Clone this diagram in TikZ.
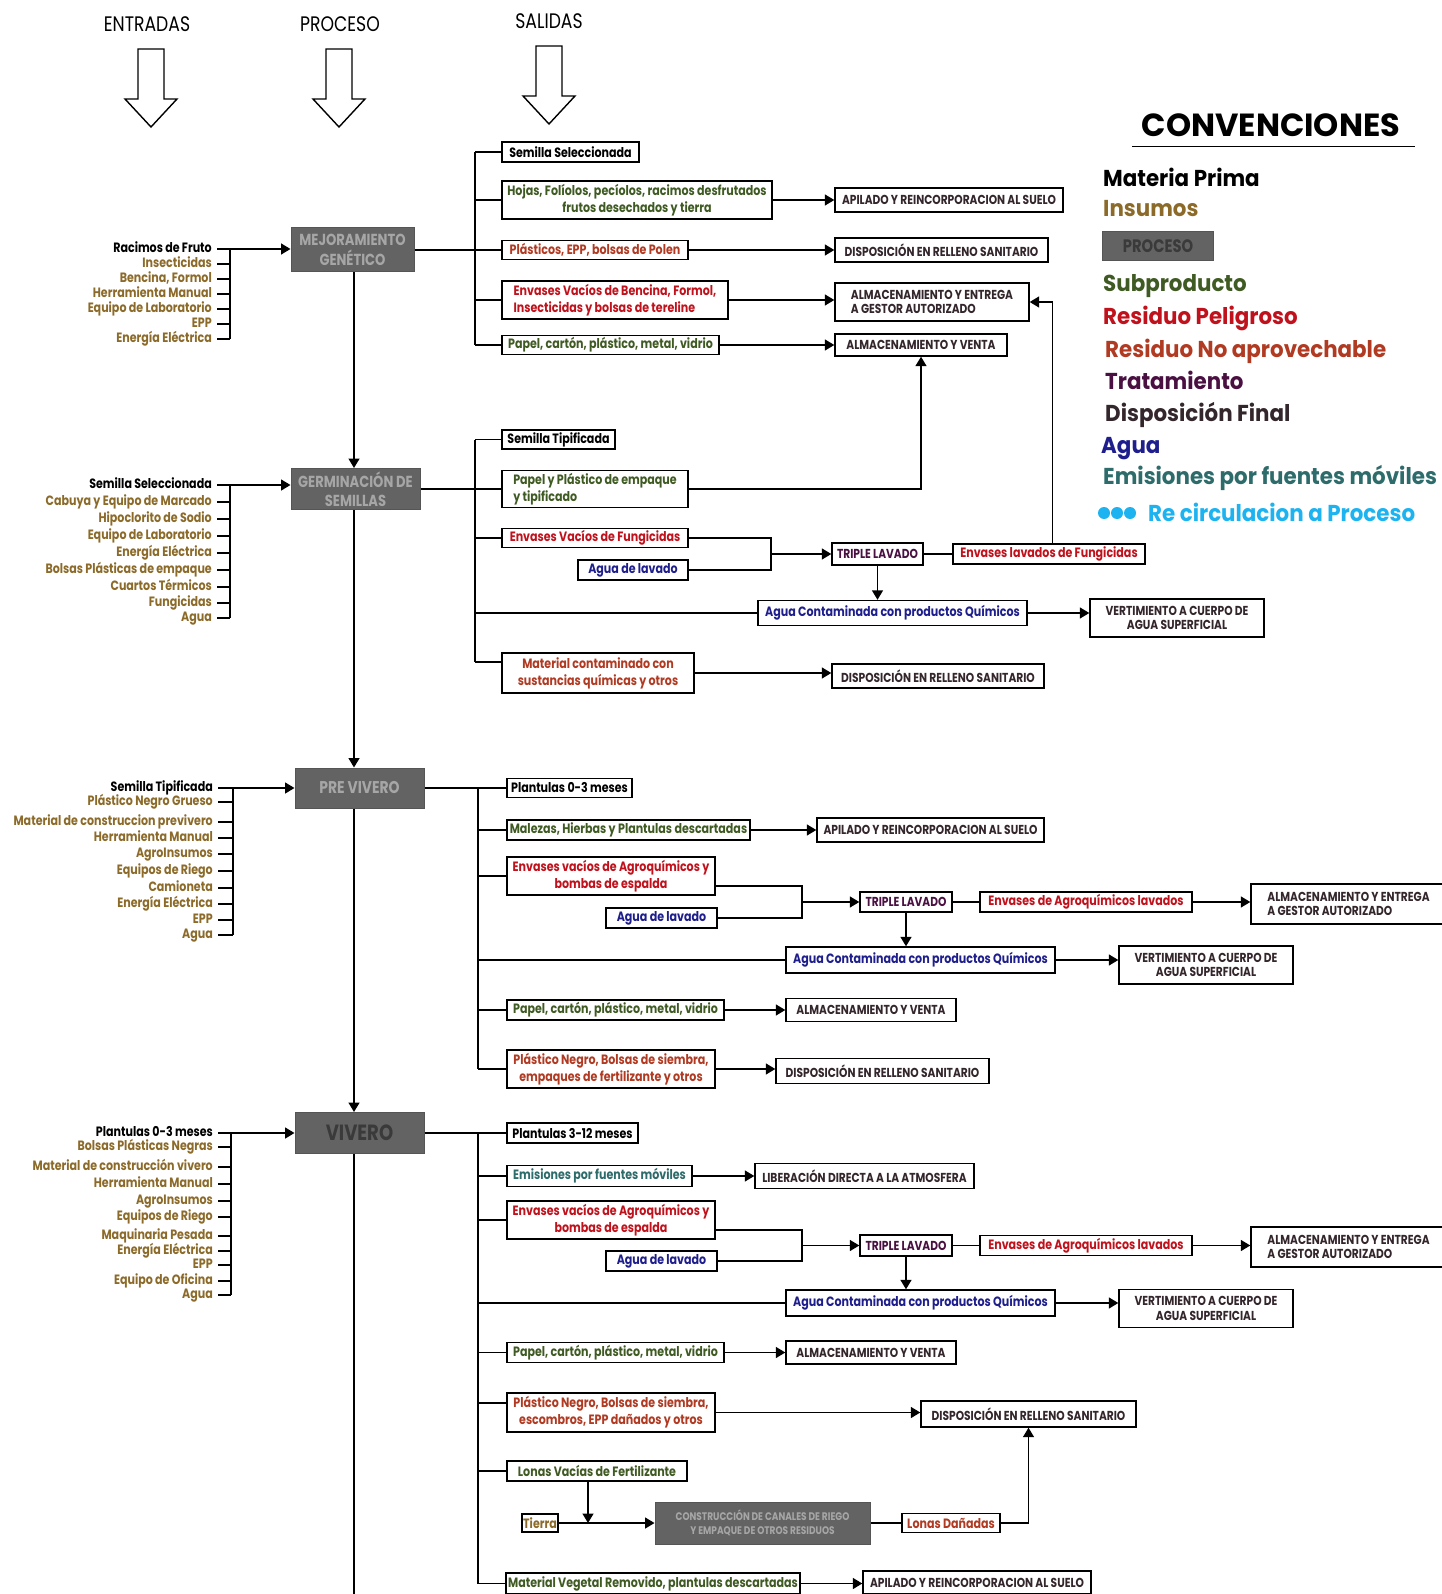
\documentclass[tikz,border=0pt]{standalone}
\usepackage{fontspec}
\setmainfont{Poppins}
\newfontfamily\condfam[FakeStretch=0.82]{Poppins}
\newfontfamily\legfam[FakeStretch=0.93]{Poppins}
\usetikzlibrary{arrows.meta}

\definecolor{insumo}{HTML}{8C6B2A}
\definecolor{subp}{HTML}{3F5A22}
\definecolor{pelig}{HTML}{C0121C}
\definecolor{noap}{HTML}{B03A22}
\definecolor{trat}{HTML}{4A1042}
\definecolor{dfin}{HTML}{33262C}
\definecolor{agua}{HTML}{1E1E8C}
\definecolor{emis}{HTML}{2E6B6B}
\definecolor{recir}{HTML}{1CB3F0}
\definecolor{procfill}{HTML}{636363}
\definecolor{procedge}{HTML}{555555}
\definecolor{proctext}{HTML}{A6A6A6}
\definecolor{procdark}{HTML}{3A3A3A}

\newcommand\lblfont{\condfam\bfseries\fontsize{13.5}{15}\selectfont}
\newcommand\bxfont{\condfam\bfseries\fontsize{13.5}{17}\selectfont}
\newcommand\dstfont{\condfam\bfseries\fontsize{13}{14.5}\selectfont}
\newcommand\prcfont{\condfam\bfseries\fontsize{16}{19.5}\selectfont}
\newcommand\hdfont{\condfam\fontsize{21}{24}\selectfont}
\newcommand\lgfont{\legfam\bfseries\fontsize{23}{26}\selectfont}

\tikzset{
  ln/.style={line width=1.5pt, draw=black},
  arr/.style={ln, -{Triangle[length=9.5pt,width=11pt]}},
  inp/.style={anchor=east, inner sep=0pt, text height=9.5pt, text depth=2.5pt, font=\lblfont, text=insumo},
  obox/.style={draw=black, line width=1.4pt, fill=white, inner sep=2pt, align=center, font=\bxfont},
  dbox/.style={obox, font=\dstfont, text=dfin},
  tbox/.style={obox, font=\dstfont, text=trat},
  pbox/.style={draw=procedge, fill=procfill, line width=1pt, inner sep=2pt, align=center, text=proctext, font=\prcfont},
  legend/.style={anchor=base west, inner sep=0pt, font=\lgfont},
  hollowdown/.pic={\draw[line width=1.4pt, fill=white] (-13,0) -- (13,0) -- (13,50) -- (26,50) -- (0,78) -- (-26,50) -- (-13,50) -- cycle;},
}

\begin{document}
\begin{tikzpicture}[x=1pt,y=-1pt]
\fill[white] (0,0) rectangle (1441,1594);
\useasboundingbox (0,0) rectangle (1441,1594);

% ---------- column headers ----------
\node[font=\hdfont] (hin) at (147,24) {ENTRADAS};
\node[font=\hdfont] (hproc) at (340,24) {PROCESO};
\node[font=\hdfont] (hout) at (549,21) {SALIDAS};
\pic at (151,49) {hollowdown};
\pic at (339,49) {hollowdown};
\pic at (549,46) {hollowdown};

% ---------- process column ----------
\coordinate (sp) at (354,0);
\coordinate (spend) at (354,1594);
\node[pbox, minimum width=123, minimum height=44] (mej) at (352.5,250) {MEJORAMIENTO\\GENÉTICO};
\node[pbox, minimum width=129, minimum height=41] (germ) at (355.5,489) {GERMINACIÓN DE\\SEMILLAS};
\node[pbox, minimum width=129, minimum height=40, font=\condfam\bfseries\fontsize{17}{20}\selectfont] (prev) at (359.5,788) {PRE VIVERO};
\node[pbox, minimum width=129, minimum height=41, font=\condfam\bfseries\fontsize{22}{24}\selectfont, text=procdark] (viv) at (359.5,1133) {VIVERO};
\draw[arr] (mej.south -| sp) -- (germ.north -| sp);
\draw[arr] (germ.south -| sp) -- (prev.north -| sp);
\draw[arr] (prev.south -| sp) -- (viv.north -| sp);
\draw[ln] (viv.south -| sp) -- (spend);

% ---------- inputs: mejoramiento ----------
\coordinate (mib) at (230,0);
\node[inp, text=black] (mi0) at (212,249) {Racimos de Fruto};
\foreach \t/\y [count=\i] in {Insecticidas/264, {Bencina, Formol}/279, Herramienta Manual/294, Equipo de Laboratorio/309, EPP/324, Energía Eléctrica/339} {
  \node[inp] (mi\i) at (212,\y) {\t};
  \draw[ln] ([xshift=5pt]mi\i.east) -- (mi\i.east -| mib);
}
\draw[arr] ([xshift=5pt]mi0.east) -- (mi0.east -| mej.west);
\draw[ln] (mi0.east -| mib) -- (mi6.east -| mib);

% ---------- inputs: germinacion ----------
\coordinate (gib) at (230,0);
\node[inp, text=black] (gi0) at (212,485) {Semilla Seleccionada};
\foreach \t/\y [count=\i] in {Cabuya y Equipo de Marcado/502, Hipoclorito de Sodio/519, Equipo de Laboratorio/536, Energía Eléctrica/553, Bolsas Plásticas de empaque/570, Cuartos Térmicos/587, Fungicidas/603, Agua/618} {
  \node[inp] (gi\i) at (212,\y) {\t};
  \draw[ln] ([xshift=5pt]gi\i.east) -- (gi\i.east -| gib);
}
\draw[arr] ([xshift=5pt]gi0.east) -- (gi0.east -| germ.west);
\draw[ln] (gi0.east -| gib) -- (gi8.east -| gib);

% ---------- inputs: pre vivero ----------
\coordinate (pib) at (233,0);
\node[inp, text=black] (pi0) at (213,788) {Semilla Tipificada};
\foreach \t/\y [count=\i] in {Plástico Negro Grueso/802, Material de construccion previvero/822, Herramienta Manual/838, AgroInsumos/854, Equipos de Riego/871, Camioneta/888, Energía Eléctrica/904, EPP/920, Agua/935} {
  \node[inp] (pi\i) at (213,\y) {\t};
  \draw[ln] ([xshift=5pt]pi\i.east) -- (pi\i.east -| pib);
}
\draw[arr] ([xshift=5pt]pi0.east) -- (pi0.east -| prev.west);
\draw[ln] (pi0.east -| pib) -- (pi9.east -| pib);

% ---------- inputs: vivero ----------
\coordinate (vib) at (231,0);
\node[inp, text=black] (vi0) at (213,1133) {Plantulas 0-3 meses};
\foreach \t/\y [count=\i] in {Bolsas Plásticas Negras/1147, Material de construcción vivero/1167, Herramienta Manual/1184, AgroInsumos/1201, Equipos de Riego/1217, Maquinaria Pesada/1236, Energía Eléctrica/1251, EPP/1265, Equipo de Oficina/1281, Agua/1295} {
  \node[inp] (vi\i) at (213,\y) {\t};
  \draw[ln] ([xshift=5pt]vi\i.east) -- (vi\i.east -| vib);
}
\draw[arr] ([xshift=5pt]vi0.east) -- (vi0.east -| viv.west);
\draw[ln] (vi0.east -| vib) -- (vi10.east -| vib);

% ---------- outputs: mejoramiento ----------
\coordinate (mob) at (475,0);
\node[obox, text=black, minimum width=137, minimum height=20] (o1a) at (570.5,152) {Semilla Seleccionada};
\node[obox, text=subp, minimum width=270, minimum height=38] (o1b) at (637,200) {Hojas, Folíolos, pecíolos, racimos desfrutados\\frutos desechados y tierra};
\node[obox, text=noap, minimum width=186, minimum height=19] (o1c) at (595,250) {Plásticos, EPP, bolsas de Polen};
\node[obox, text=pelig, align=left, minimum width=226, minimum height=38] (o1d) at (615,300) {Envases Vacíos de Bencina, Formol,\\Insecticidas y bolsas de tereline};
\node[obox, text=subp, minimum width=217, minimum height=19] (o1e) at (610.5,345) {Papel, cartón, plástico, metal, vidrio};
\node[dbox, minimum width=228, minimum height=24] (d1a) at (949,200) {APILADO Y REINCORPORACION AL SUELO};
\node[dbox, minimum width=213, minimum height=24] (d1b) at (941.5,250) {DISPOSICIÓN EN RELLENO SANITARIO};
\node[dbox, align=left, minimum width=194, minimum height=38] (d1c) at (932,302) {ALMACENAMIENTO Y ENTREGA\\A GESTOR AUTORIZADO};
\node[dbox, minimum width=172, minimum height=22] (d1d) at (921,345) {ALMACENAMIENTO Y VENTA};
\draw[ln] (mej.east) -- (o1c.west);
\draw[ln] (o1a.west -| mob) -- (o1e.west -| mob);
\foreach \n in {o1a,o1b,o1d,o1e} \draw[ln] (\n.west -| mob) -- (\n.west);
\draw[arr] (o1b.east) -- (d1a.west);
\draw[arr] (o1c.east) -- (d1b.west);
\draw[arr] (o1d.east) -- (o1d.east -| d1c.west);
\draw[arr] (o1e.east) -- (d1d.west);

% ---------- outputs: germinacion ----------
\coordinate (gob) at (475,0);
\coordinate (b2) at (771,0);
\coordinate (r2) at (1052.5,0);
\node[obox, text=black, minimum width=113, minimum height=19] (o2a) at (558.5,439.5) {Semilla Tipificada};
\node[obox, text=subp, align=left, minimum width=186, minimum height=37] (o2b) at (595,489) {Papel y Plástico de empaque\\y tipificado};
\node[obox, text=pelig, minimum width=186, minimum height=19] (o2c) at (595,538) {Envases Vacíos de Fungicidas};
\node[obox, text=agua, minimum width=110, minimum height=20] (o2d) at (633,570) {Agua de lavado};
\node[tbox, minimum width=91, minimum height=22] (t2) at (877.5,554) {TRIPLE LAVADO};
\node[obox, text=pelig, minimum width=192, minimum height=20] (o2e) at (1049,554) {Envases lavados de Fungicidas};
\node[obox, text=agua, minimum width=269, minimum height=25] (o2f) at (892.5,613) {Agua Contaminada con productos Químicos};
\node[dbox, minimum width=174, minimum height=38] (d2a) at (1177,618) {VERTIMIENTO A CUERPO DE\\AGUA SUPERFICIAL};
\node[obox, text=noap, minimum width=192, minimum height=40] (o2g) at (598,673) {Material contaminado con\\sustancias químicas y otros};
\node[dbox, minimum width=212, minimum height=24] (d2b) at (938,676) {DISPOSICIÓN EN RELLENO SANITARIO};
\coordinate (o2gt) at ([yshift=11pt]o2g.west);
\draw[ln] (germ.east) -- (o2b.west);
\draw[ln] (o2a.west -| gob) -- (o2gt -| gob);
\foreach \n in {o2a,o2c,o2f} \draw[ln] (\n.west -| gob) -- (\n.west);
\draw[ln] (o2gt -| gob) -- (o2gt);
\draw[ln] (o2c.east) -- (o2c.east -| b2) -- (o2d.east -| b2) -- (o2d.east);
\draw[arr] (t2.west -| b2) -- (t2.west);
\draw[ln] (t2.east) -- (o2e.west);
\draw[arr] (t2.south) -- (t2.south |- o2f.north);
\draw[arr] (o2f.east) -- (o2f.east -| d2a.west);
\draw[arr] (o2g.east) -- (o2g.east -| d2b.west);
% recirculation to the first stage
\draw[arr] (o2b.east) -| (d1d.south);
\draw[arr] (o2e.north -| r2) |- (d1c.east);

% ---------- outputs: pre vivero ----------
\coordinate (pob) at (478,0);
\coordinate (b3) at (802,0);
\node[obox, text=black, minimum width=125, minimum height=19] (o3a) at (569.5,788) {Plantulas 0-3 meses};
\node[obox, text=subp, minimum width=243, minimum height=20] (o3b) at (628.5,830) {Malezas, Hierbas y Plantulas descartadas};
\node[dbox, minimum width=227, minimum height=24] (d3a) at (930.5,830) {APILADO Y REINCORPORACION AL SUELO};
\node[obox, text=pelig, minimum width=208, minimum height=38] (o3c) at (611,876) {Envases vacíos de Agroquímicos y\\bombas de espalda};
\node[obox, text=agua, minimum width=111, minimum height=20] (o3d) at (661.5,918) {Agua de lavado};
\node[tbox, minimum width=92, minimum height=20] (t3) at (906,902) {TRIPLE LAVADO};
\node[obox, text=pelig, minimum width=212, minimum height=20] (o3e) at (1086,902) {Envases de Agroquímicos lavados};
\node[dbox, align=left, minimum width=195, minimum height=40] (d3b) at (1348.5,904) {ALMACENAMIENTO Y ENTREGA\\A GESTOR AUTORIZADO};
\node[obox, text=agua, minimum width=269, minimum height=26] (o3f) at (920.5,960) {Agua Contaminada con productos Químicos};
\node[dbox, minimum width=174, minimum height=38] (d3c) at (1206,965) {VERTIMIENTO A CUERPO DE\\AGUA SUPERFICIAL};
\node[obox, text=subp, minimum width=217, minimum height=20] (o3g) at (615.5,1010) {Papel, cartón, plástico, metal, vidrio};
\node[dbox, minimum width=170, minimum height=23] (d3d) at (871,1010) {ALMACENAMIENTO Y VENTA};
\node[obox, text=noap, minimum width=208, minimum height=38] (o3h) at (611,1069) {Plástico Negro, Bolsas de siembra,\\empaques de fertilizante y otros};
\node[dbox, minimum width=213, minimum height=25] (d3e) at (882.5,1071) {DISPOSICIÓN EN RELLENO SANITARIO};
\coordinate (o3ct) at ([yshift=-10pt]o3c.east);
\draw[ln] (prev.east) -- (o3a.west);
\draw[ln] (o3a.west -| pob) -- (o3h.west -| pob);
\foreach \n in {o3b,o3c,o3f,o3g,o3h} \draw[ln] (\n.west -| pob) -- (\n.west);
\draw[arr] (o3b.east) -- (d3a.west);
\draw[ln] (o3ct) -- (o3ct -| b3) -- (o3d.east -| b3) -- (o3d.east);
\draw[arr] (t3.west -| b3) -- (t3.west);
\draw[ln] (t3.east) -- (o3e.west);
\draw[arr] (o3e.east) -- (o3e.east -| d3b.west);
\draw[arr] (t3.south) -- (t3.south |- o3f.north);
\draw[arr] (o3f.east) -- (o3f.east -| d3c.west);
\draw[arr] (o3g.east) -- (d3d.west);
\draw[arr] (o3h.east) -- (o3h.east -| d3e.west);

% ---------- outputs: vivero ----------
\coordinate (vob) at (478,0);
\coordinate (b4) at (802,0);
\coordinate (lx) at (588,0);
\node[obox, text=black, minimum width=131, minimum height=20] (o4a) at (572.5,1133) {Plantulas 3-12 meses};
\node[obox, text=emis, minimum width=185, minimum height=21] (o4b) at (599.5,1176) {Emisiones por fuentes móviles};
\node[dbox, minimum width=219, minimum height=25] (d4a) at (864.5,1176) {LIBERACIÓN DIRECTA A LA ATMOSFERA};
\node[obox, text=pelig, minimum width=208, minimum height=38] (o4c) at (611,1220) {Envases vacíos de Agroquímicos y\\bombas de espalda};
\node[obox, text=agua, minimum width=111, minimum height=20] (o4d) at (661.5,1261) {Agua de lavado};
\node[tbox, minimum width=92, minimum height=21] (t4) at (906,1245.5) {TRIPLE LAVADO};
\node[obox, text=pelig, minimum width=212, minimum height=20] (o4e) at (1086,1245.5) {Envases de Agroquímicos lavados};
\node[dbox, align=left, minimum width=195, minimum height=40] (d4b) at (1348.5,1247) {ALMACENAMIENTO Y ENTREGA\\A GESTOR AUTORIZADO};
\node[obox, text=agua, minimum width=269, minimum height=26] (o4f) at (920.5,1303) {Agua Contaminada con productos Químicos};
\node[dbox, minimum width=174, minimum height=38] (d4c) at (1206,1308.5) {VERTIMIENTO A CUERPO DE\\AGUA SUPERFICIAL};
\node[obox, text=subp, minimum width=217, minimum height=20] (o4g) at (615.5,1352.5) {Papel, cartón, plástico, metal, vidrio};
\node[dbox, minimum width=170, minimum height=23] (d4d) at (871,1352.5) {ALMACENAMIENTO Y VENTA};
\node[obox, text=noap, minimum width=208, minimum height=39] (o4h) at (611,1412.5) {Plástico Negro, Bolsas de siembra,\\escombros, EPP dañados y otros};
\node[dbox, minimum width=215, minimum height=26] (d4e) at (1028.5,1414) {DISPOSICIÓN EN RELLENO SANITARIO};
\node[obox, text=subp, minimum width=180, minimum height=20] (o4i) at (597,1471) {Lonas Vacías de Fertilizante};
\node[obox, text=insumo, minimum width=36, minimum height=18, inner sep=1pt] (o4j) at (540,1523) {Tierra};
\node[pbox, minimum width=215, minimum height=42, font=\condfam\bfseries\fontsize{11}{13.5}\selectfont] (cons) at (762.5,1523) {CONSTRUCCIÓN DE CANALES DE RIEGO\\Y EMPAQUE DE OTROS RESIDUOS};
\node[obox, text=noap, minimum width=98, minimum height=19] (o4k) at (951,1523) {Lonas Dañadas};
\node[obox, text=subp, minimum width=292, minimum height=21] (o4l) at (653,1583.5) {Material Vegetal Removido, plantulas descartadas};
\node[dbox, minimum width=228, minimum height=23] (d4f) at (977,1582.5) {APILADO Y REINCORPORACION AL SUELO};
\coordinate (o4ct) at ([yshift=-10pt]o4c.east);
\coordinate (o4ht) at ([yshift=9.5pt]o4h.west);
\draw[ln] (viv.east) -- (o4a.west);
\draw[ln] (o4a.west -| vob) -- (o4l.west -| vob);
\foreach \n in {o4b,o4c,o4f,o4g,o4i,o4l} \draw[ln] (\n.west -| vob) -- (\n.west);
\draw[ln] (o4ht -| vob) -- (o4ht);
\draw[arr] (o4b.east) -- (o4b.east -| d4a.west);
\draw[ln] (o4ct) -- (o4ct -| b4) -- (o4d.east -| b4) -- (o4d.east);
\draw[arr] (t4.west -| b4) -- (t4.west);
\draw[ln] (t4.east) -- (o4e.west);
\draw[arr] (o4e.east) -- (o4e.east -| d4b.west);
\draw[arr] (t4.south) -- (t4.south |- o4f.north);
\draw[arr] (o4f.east) -- (o4f.east -| d4c.west);
\draw[arr] (o4g.east) -- (d4d.west);
\draw[arr] (o4h.east) -- (o4h.east -| d4e.west);
\draw[arr] (o4i.south -| lx) -- (o4j.east -| lx);
\draw[arr] (o4j.east) -- (cons.west);
\draw[ln] (cons.east) -- (o4k.west);
\draw[arr] (o4k.east) -| (d4e.south);
\draw[arr] (o4l.east) -- (o4l.east -| d4f.west);

% ---------- legend ----------
\node[anchor=base, inner sep=0pt, font=\bfseries\fontsize{32}{35}\selectfont] (conv) at (1271,137) {CONVENCIONES};
\draw[line width=1.4pt] (1132,146.5) -- (1415,146.5);
\node[legend, text=black] (lg1) at (1103,187) {Materia Prima};
\node[legend, text=insumo] (lg2) at (1103,217) {Insumos};
\node[pbox, minimum width=111, minimum height=29, text=procdark, font=\condfam\bfseries\fontsize{18}{20}\selectfont] (lg3) at (1158,246.5) {PROCESO};
\node[legend, text=subp] (lg4) at (1103,292) {Subproducto};
\node[legend, text=pelig] (lg5) at (1103,324) {Residuo Peligroso};
\node[legend, text=noap] (lg6) at (1105,357) {Residuo No aprovechable};
\node[legend, text=trat] (lg7) at (1105,389) {Tratamiento};
\node[legend, text=dfin] (lg8) at (1105,421) {Disposición Final};
\node[legend, text=agua] (lg9) at (1101,453) {Agua};
\node[legend, text=emis] (lg10) at (1103,484) {Emisiones por fuentes móviles};
\foreach \cx in {1104,1117,1130} \fill[recir] (\cx,513) circle (6pt);
\node[legend, text=recir] (lg11) at (1148,521) {Re circulacion a Proceso};
\end{tikzpicture}
\end{document}
